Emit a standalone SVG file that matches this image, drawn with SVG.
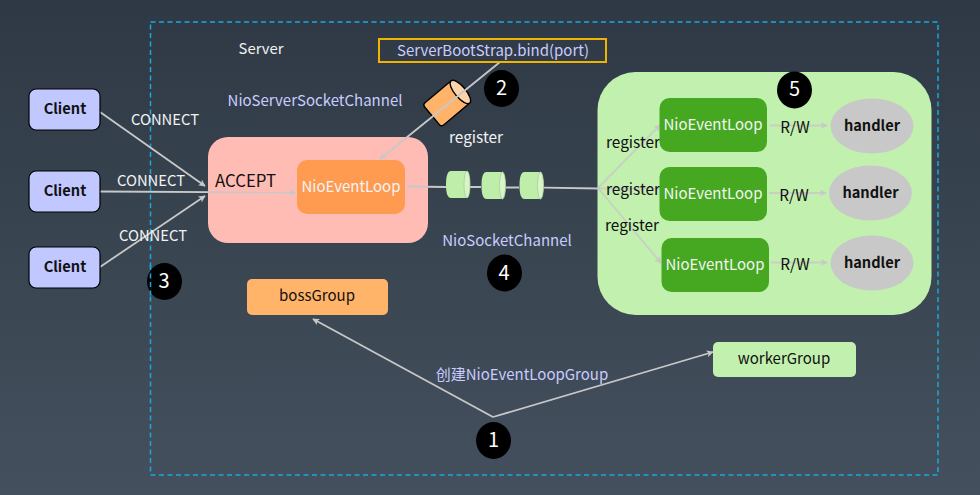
<svg xmlns="http://www.w3.org/2000/svg" width="980" height="495" viewBox="0 0 980 495">
<defs>
<linearGradient id="bg" x1="0" y1="0" x2="0" y2="1"><stop offset="0" stop-color="#2e3945"/><stop offset="1" stop-color="#44505d"/></linearGradient>
<marker id="arr" viewBox="0 0 10 10" refX="9" refY="5" markerWidth="7" markerHeight="7" markerUnits="userSpaceOnUse" orient="auto"><path d="M0 0L10 5L0 10L2.5 5Z" fill="#c8c8c8"/></marker>
<path id="small-cyl" d="M5 0H19Q24 0 24 13.500Q24 27 19 27H5Q0 27 0 13.500Q0 0 5 0Z" fill="#bfeeaa"/>
</defs>
<style>
text{font-family:"Noto Sans CJK SC","Noto Sans",sans-serif;text-anchor:middle}
.l{font-size:14.800px;fill:#f2f2f2}
.b{font-size:15px;fill:#c9ccff}
.k{font-size:15px;fill:#111}
.r{font-size:15.400px;fill:#111}
.w{font-size:15px;fill:#f4f4f4}
.h{font-size:14.600px;font-weight:700;fill:#111}
.n{font-size:20px;fill:#fff}
.c{stroke:#c8c8c8;stroke-width:1.800;fill:none}
.cm{marker-end:url(#arr)}
.client{fill:#c0c8ff;stroke:#000;stroke-width:1.200}
.nel{fill:#46a821}
.hd{fill:#c8c8c8}
.cap{fill:#d8f5c8;stroke:#a9cda0;stroke-width:.8}
</style>
<rect width="980" height="495" fill="url(#bg)"/>
<rect id="server-boundary" x="150.500" y="22" width="787.500" height="453" fill="none" stroke="#18a8dc" stroke-width="1.500" stroke-dasharray="5 3.500"/>
<g id="accept-box"><rect x="208" y="137" width="220" height="106" rx="20" fill="#ffbcb4"/><text x="245.500" y="187" style="font-size:16.800px" fill="#111">ACCEPT</text></g>
<g id="worker-box"><rect x="597.500" y="72" width="334" height="243" rx="38" fill="#c2f0ae"/></g>
<g id="channel-cylinder" transform="rotate(-40 446.200 103.900)">
<rect x="427.700" y="89.400" width="37" height="29" rx="3" fill="#ffb469" stroke="#000" stroke-width="1.400"/>
<ellipse cx="464.700" cy="103.900" rx="5.500" ry="14.500" fill="#ffd3a8" stroke="#000" stroke-width="1.400"/>
</g>
<g id="connectors">
<path class="c cm" d="M100 112L205 186"/>
<path class="c cm" d="M100 191.500L296 192.500"/>
<path class="c cm" d="M100 267L205 196"/>
<path class="c cm" d="M500 62L380 159"/>
<path class="c" d="M407 186.500L446 187M470 187H481M506 187.500H519M544 187.700L598 188.500"/>
<path class="c cm" d="M598 188L660 125" stroke-opacity=".8"/>
<path class="c" d="M598 188.500H660" stroke-opacity=".8"/>
<path class="c cm" d="M598 188L661 263" stroke-opacity=".8"/>
<path class="c cm" d="M770 125.500H827" stroke-opacity=".8"/>
<path class="c cm" d="M769 193H826" stroke-opacity=".8"/>
<path class="c cm" d="M771 262.500H827" stroke-opacity=".8"/>
<path class="c cm" d="M493 417L313 319"/>
<path class="c cm" d="M493 417L713 352"/>
</g>
<g id="client1"><rect class="client" x="29" y="89" width="71" height="41" rx="7"/><text class="h" x="65" y="114">Client</text></g>
<g id="client2"><rect class="client" x="29" y="171" width="71" height="41" rx="7"/><text class="h" x="65" y="196">Client</text></g>
<g id="client3"><rect class="client" x="29" y="247" width="71" height="41" rx="7"/><text class="h" x="65" y="272">Client</text></g>
<g id="labels">
<text class="l" x="261" y="54">Server</text>
<text class="b" x="315" y="106">NioServerSocketChannel</text>
<text class="l" x="165" y="125">CONNECT</text>
<text class="l" x="151" y="186">CONNECT</text>
<text class="l" x="153" y="241">CONNECT</text>
<text class="l" x="476" y="143" style="font-size:15.400px">register</text>
<text class="b" x="507" y="246">NioSocketChannel</text>
<text class="b" x="522" y="380">创建NioEventLoopGroup</text>
<text class="r" x="633" y="148">register</text>
<text class="r" x="633" y="195">register</text>
<text class="r" x="632" y="231">register</text>
<text class="r" x="795" y="133">R/W</text>
<text class="r" x="794" y="201">R/W</text>
<text class="r" x="795" y="270">R/W</text>
</g>
<g id="bootstrap"><rect x="379" y="39" width="227" height="23" fill="none" stroke="#f0b400" stroke-width="2"/><text class="b" x="493" y="56">ServerBootStrap.bind(port)</text></g>
<g id="nio-eventloop-boss"><rect x="297" y="160" width="108" height="54" rx="10" fill="#ff9b50"/><text class="w" x="351" y="192">NioEventLoop</text></g>
<g id="socket-channel-1"><use href="#small-cyl" x="446" y="171"/><ellipse class="cap" cx="467" cy="184.500" rx="3" ry="13.500"/></g>
<g id="socket-channel-2"><use href="#small-cyl" x="481.500" y="172"/><ellipse class="cap" cx="502.500" cy="185.500" rx="3" ry="13.500"/></g>
<g id="socket-channel-3"><use href="#small-cyl" x="519.500" y="172"/><ellipse class="cap" cx="540.500" cy="185.500" rx="3" ry="13.500"/></g>
<g id="worker-loop-1"><rect class="nel" x="659.500" y="98" width="107.500" height="54" rx="10"/><text class="w" x="713" y="130">NioEventLoop</text></g>
<g id="worker-loop-2"><rect class="nel" x="659.500" y="167" width="107.500" height="54" rx="10"/><text class="w" x="713" y="199">NioEventLoop</text></g>
<g id="worker-loop-3"><rect class="nel" x="661.500" y="238" width="107.500" height="54" rx="10"/><text class="w" x="715" y="270">NioEventLoop</text></g>
<g id="handler1"><ellipse class="hd" cx="872" cy="126" rx="41.500" ry="27.500"/><text class="h" x="872" y="131">handler</text></g>
<g id="handler2"><ellipse class="hd" cx="870.500" cy="193" rx="41.500" ry="27.500"/><text class="h" x="870.500" y="198">handler</text></g>
<g id="handler3"><ellipse class="hd" cx="872" cy="263" rx="41.500" ry="27.500"/><text class="h" x="872" y="268">handler</text></g>
<g id="bossGroup"><rect x="247" y="279" width="141" height="36" rx="5" fill="#ffb469"/><text class="k" x="317" y="301">bossGroup</text></g>
<g id="workerGroup"><rect x="713" y="342" width="143" height="35" rx="5" fill="#c2f0ae"/><text class="k" x="784" y="364">workerGroup</text></g>
<g id="badge1"><ellipse cx="493.500" cy="440.500" rx="17.500" ry="18.500" fill="#000"/><text class="n" x="493.500" y="447">1</text></g>
<g id="badge2"><ellipse cx="501.500" cy="88.500" rx="17.500" ry="18.500" fill="#000"/><text class="n" x="501.500" y="95">2</text></g>
<g id="badge3"><ellipse cx="164.500" cy="281.500" rx="17.500" ry="18.500" fill="#000"/><text class="n" x="164" y="288">3</text></g>
<g id="badge4"><ellipse cx="504.500" cy="273" rx="17.500" ry="18.500" fill="#000"/><text class="n" x="504" y="280">4</text></g>
<g id="badge5"><ellipse cx="794.500" cy="90" rx="17.500" ry="18.500" fill="#000"/><text class="n" x="794.500" y="96">5</text></g>
<path d="M150.500 265V300" stroke="#18a8dc" stroke-width="1.500" stroke-dasharray="5 3.500" fill="none"/>
</svg>
